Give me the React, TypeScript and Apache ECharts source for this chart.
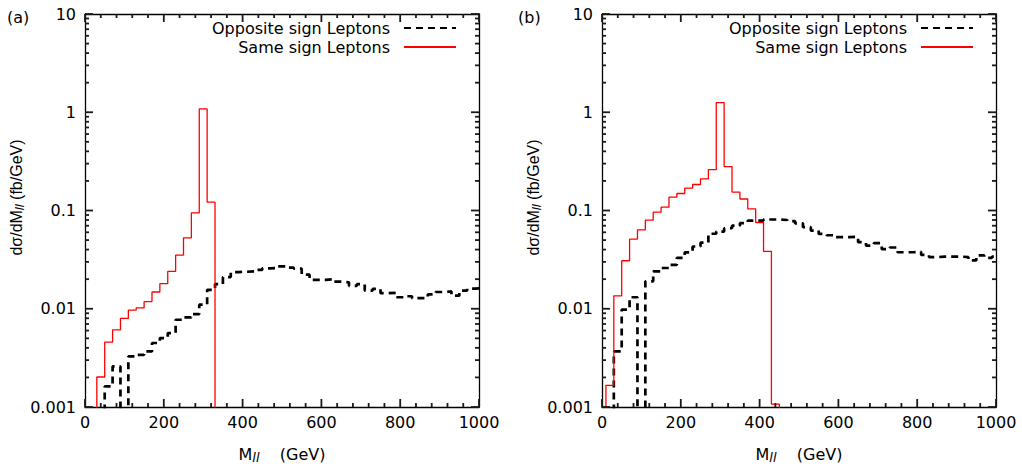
import React, { useEffect, useRef } from 'react';
import * as echarts from 'echarts';

const FONT = '"DejaVu Sans", "Liberation Sans", sans-serif';
const TITLE_FONT = '"Liberation Sans", Arial, sans-serif';

// 20 GeV histogram bins; bin i spans [BIN_EDGES[i], BIN_EDGES[i + 1]]
const BIN_EDGES = Array.from({ length: 51 }, (_, i) => 10 + 20 * i);

const X_MIN = 0;
const X_MAX = 1000;
const X_STEP = 200;
const X_MAJOR_TICKS = [0, 200, 400, 600, 800, 1000];
const X_MINOR_TICKS = Array.from({ length: 26 }, (_, i) => 40 * i).filter((v) => v % X_STEP !== 0);
const Y_MIN = 0.001;
const Y_MAX = 10;
const Y_TICKS = [0.001, 0.01, 0.1, 1, 10];
const Y_TICK_LABELS = ['0.001', '0.01', '0.1', '1', '10'];
const Y_MINOR_TICKS = [0.001, 0.01, 0.1, 1].flatMap((d) => [2, 3, 4, 5, 6, 7, 8, 9].map((k) => k * d));

const SERIES_OS = 'Opposite sign Leptons';
const SERIES_SS = 'Same sign Leptons';
const PANEL_LABELS = ['(a)', '(b)'];

// dσ/dM_ll (fb/GeV) per bin, null = no entry, 0 = empty bin
const SAME_SIGN_A = [
  null, 0.00202, 0.00458, 0.0061, 0.00797, 0.0097, 0.0102, 0.0118, 0.0148, 0.018,
  0.024, 0.0351, 0.0527, 0.0946, 1.08, 0.1216,
];
const OPPOSITE_SIGN_A = [
  null, null, 0.00162, 0.00259, 0, 0.00327, 0.0034, 0.00368, 0.00448, 0.00503,
  0.00566, 0.00773, 0.00816, 0.00883, 0.011, 0.0156, 0.0178, 0.021, 0.0236, 0.0238,
  0.024, 0.0249, 0.0258, 0.0259, 0.027, 0.0262, 0.0256, 0.0222, 0.0197, 0.0197,
  0.02, 0.0189, 0.0186, 0.0171, 0.0178, 0.0153, 0.0159, 0.0144, 0.0145, 0.0131,
  0.0134, 0.0128, 0.0128, 0.014, 0.0148, 0.015, 0.0136, 0.0153, 0.016, 0.0162,
];
const SAME_SIGN_B = [
  0.00166, 0.01355, 0.0308, 0.0511, 0.0636, 0.0797, 0.0962, 0.108, 0.1367, 0.149,
  0.169, 0.184, 0.21, 0.261, 1.254, 0.28, 0.154, 0.131, 0.104, 0.0755,
  0.0383, 0.00107,
];
const OPPOSITE_SIGN_B = [
  null, 0.00368, 0.0098, 0.0131, 0, 0.019, 0.024, 0.026, 0.028, 0.033,
  0.0375, 0.043, 0.047, 0.058, 0.061, 0.066, 0.07, 0.0743, 0.079, 0.079,
  0.081, 0.081, 0.08, 0.078, 0.074, 0.0676, 0.0625, 0.0578, 0.056, 0.0535,
  0.0535, 0.054, 0.0476, 0.044, 0.0465, 0.0404, 0.042, 0.0376, 0.0376, 0.038,
  0.0353, 0.0335, 0.034, 0.034, 0.034, 0.0335, 0.031, 0.035, 0.033, 0.034,
];

// value used for the histogram outline below the visible range (clipped by the grid)
const FLOOR = 1e-5;

function histogramOutline(values: (number | null)[]): [number, number][] {
  const pts: [number, number][] = [];
  let lastEdge: number | null = null;
  values.forEach((v, i) => {
    if (v === null) return;
    const lo = BIN_EDGES[i];
    const hi = BIN_EDGES[i + 1];
    const y = v > 0 ? v : FLOOR;
    if (lastEdge === null) pts.push([lo, FLOOR]);
    pts.push([lo, y], [hi, y]);
    lastEdge = hi;
  });
  if (lastEdge !== null) pts.push([lastEdge, FLOOR]);
  return pts;
}

const GRIDS = [
  { left: 85, top: 14, width: 394, height: 393 },
  { left: 602, top: 14, width: 394, height: 393 },
];

const AXIS_COLOR = '#000';
const TICK_COLOR = '#1a1a1a';
const MAJOR_LEN = 8;
const MINOR_LEN = 4;
const TICK_WIDTH = 1.8;
const axisLine = { show: true, onZero: false, lineStyle: { color: AXIS_COLOR, width: 1.3 } };

const richSub = {
  fontSize: 13,
  fontStyle: 'italic',
  lineHeight: 13,
  verticalAlign: 'bottom',
};

function xAxes(g: number) {
  const base = {
    type: 'value',
    gridIndex: g,
    min: X_MIN,
    max: X_MAX,
    interval: X_STEP,
    axisLine,
    axisTick: { show: false },
    minorTick: { show: false },
    splitLine: { show: false },
  };
  return [
    {
      ...base,
      position: 'bottom',
      axisLabel: {
        show: true,
        margin: 7,
        fontSize: 16,
        fontFamily: FONT,
        color: '#000',
        showMinLabel: true,
        showMaxLabel: true,
        formatter: (v: number) => String(v),
      },
      name: 'M{sub|ll}    (GeV)',
      nameLocation: 'middle',
      nameGap: 37,
      nameTextStyle: {
        fontSize: 16,
        fontFamily: FONT,
        color: '#000',
        lineHeight: 20,
        rich: { sub: { ...richSub, fontFamily: FONT } },
      },
    },
    { ...base, position: 'top', axisLabel: { show: false } },
  ];
}

function yAxes(g: number) {
  const base = {
    type: 'log',
    logBase: 10,
    gridIndex: g,
    min: Y_MIN,
    max: Y_MAX,
    axisLine,
    axisTick: { show: false },
    splitLine: { show: false },
  };
  return [
    {
      ...base,
      position: 'left',
      axisLabel: {
        show: true,
        margin: 9,
        fontSize: 16,
        fontFamily: FONT,
        color: '#000',
        formatter: (v: number) => Y_TICK_LABELS[Math.round(Math.log10(v)) + 3] ?? '',
      },
      name: 'dσ/dM{sub|ll} (fb/GeV)',
      nameLocation: 'middle',
      nameGap: 57,
      nameTextStyle: {
        fontSize: 16,
        fontFamily: TITLE_FONT,
        color: '#000',
        lineHeight: 20,
        padding: [0, 0, 0, 26],
        rich: { sub: { ...richSub, fontFamily: TITLE_FONT } },
      },
    },
    { ...base, position: 'right', axisLabel: { show: false } },
  ];
}

function panelSeries(g: number, opposite: (number | null)[], same: (number | null)[]) {
  return [
    {
      type: 'line',
      name: SERIES_OS,
      xAxisIndex: g * 2,
      yAxisIndex: g * 2,
      data: histogramOutline(opposite),
      symbol: 'none',
      clip: true,
      silent: true,
      lineStyle: { color: '#000', width: 2.7, type: [7, 5] },
      itemStyle: { color: '#000' },
      z: 2,
    },
    {
      type: 'line',
      name: SERIES_SS,
      xAxisIndex: g * 2,
      yAxisIndex: g * 2,
      data: histogramOutline(same),
      symbol: 'none',
      clip: true,
      silent: true,
      lineStyle: { color: '#ff0000', width: 1.3 },
      itemStyle: { color: '#ff0000' },
      z: 3,
    },
  ];
}

function legendFor(g: number) {
  const iconRight = GRIDS[g].left + GRIDS[g].width - 17;
  return {
    data: [SERIES_OS, SERIES_SS],
    orient: 'vertical',
    align: 'right',
    right: 1022 - iconRight,
    top: 15,
    itemWidth: 52,
    itemHeight: 14,
    itemGap: 3,
    selectedMode: false,
    // only the line sample is shown, not the marker
    itemStyle: { opacity: 0, borderWidth: 0 },
    textStyle: { fontSize: 16, fontFamily: FONT, color: '#000', padding: [0, 9, 0, 0] },
  };
}

function panelLabels() {
  return PANEL_LABELS.map((label, i) => ({
    type: 'text',
    id: `label-${i}`,
    left: i === 0 ? 7 : 518,
    top: 9,
    style: { text: label, font: `16px ${FONT}`, fill: '#000' },
  }));
}

// inward tick marks on all four sides of each frame, positioned through the chart's scales
function frameTicks(chart: echarts.ECharts) {
  const out: any[] = [];
  const w = TICK_WIDTH;
  const half = w / 2;
  GRIDS.forEach((_, g) => {
    const finder = { seriesIndex: g * 2 };
    const xTicks = [
      ...X_MAJOR_TICKS.map((v) => [v, MAJOR_LEN]),
      ...X_MINOR_TICKS.map((v) => [v, MINOR_LEN]),
    ];
    const yTicks = [
      ...Y_TICKS.map((v) => [v, MAJOR_LEN]),
      ...Y_MINOR_TICKS.map((v) => [v, MINOR_LEN]),
    ];
    xTicks.forEach(([v, len]) => {
      const b = chart.convertToPixel(finder, [v, Y_MIN]) as number[];
      const t = chart.convertToPixel(finder, [v, Y_MAX]) as number[];
      out.push({ type: 'rect', silent: true, z: 10, shape: { x: b[0] - half, y: b[1] - len, width: w, height: len }, style: { fill: TICK_COLOR } });
      out.push({ type: 'rect', silent: true, z: 10, shape: { x: t[0] - half, y: t[1], width: w, height: len }, style: { fill: TICK_COLOR } });
    });
    yTicks.forEach(([v, len]) => {
      const l = chart.convertToPixel(finder, [X_MIN, v]) as number[];
      const r = chart.convertToPixel(finder, [X_MAX, v]) as number[];
      out.push({ type: 'rect', silent: true, z: 10, shape: { x: l[0], y: l[1] - half, width: len, height: w }, style: { fill: TICK_COLOR } });
      out.push({ type: 'rect', silent: true, z: 10, shape: { x: r[0] - len, y: r[1] - half, width: len, height: w }, style: { fill: TICK_COLOR } });
    });
  });
  return out;
}

export default function App() {
  const ref = useRef<HTMLDivElement>(null);

  useEffect(() => {
    if (!ref.current) return;
    const chart = echarts.init(ref.current, undefined, { renderer: 'svg' });
    chart.setOption({
      animation: false,
      backgroundColor: '#fff',
      textStyle: { fontFamily: FONT },
      grid: GRIDS.map((g) => ({ ...g, containLabel: false, outerBoundsMode: 'none' })),
      xAxis: [...xAxes(0), ...xAxes(1)],
      yAxis: [...yAxes(0), ...yAxes(1)],
      legend: [legendFor(0), legendFor(1)],
      series: [
        ...panelSeries(0, OPPOSITE_SIGN_A, SAME_SIGN_A),
        ...panelSeries(1, OPPOSITE_SIGN_B, SAME_SIGN_B),
      ],
    });
    chart.setOption({ graphic: [...panelLabels(), ...frameTicks(chart)] });
    return () => chart.dispose();
  }, []);

  return (
    <div
      ref={ref}
      style={{ position: 'fixed', left: 0, top: 0, width: 1022, height: 471, background: '#fff' }}
    />
  );
}
